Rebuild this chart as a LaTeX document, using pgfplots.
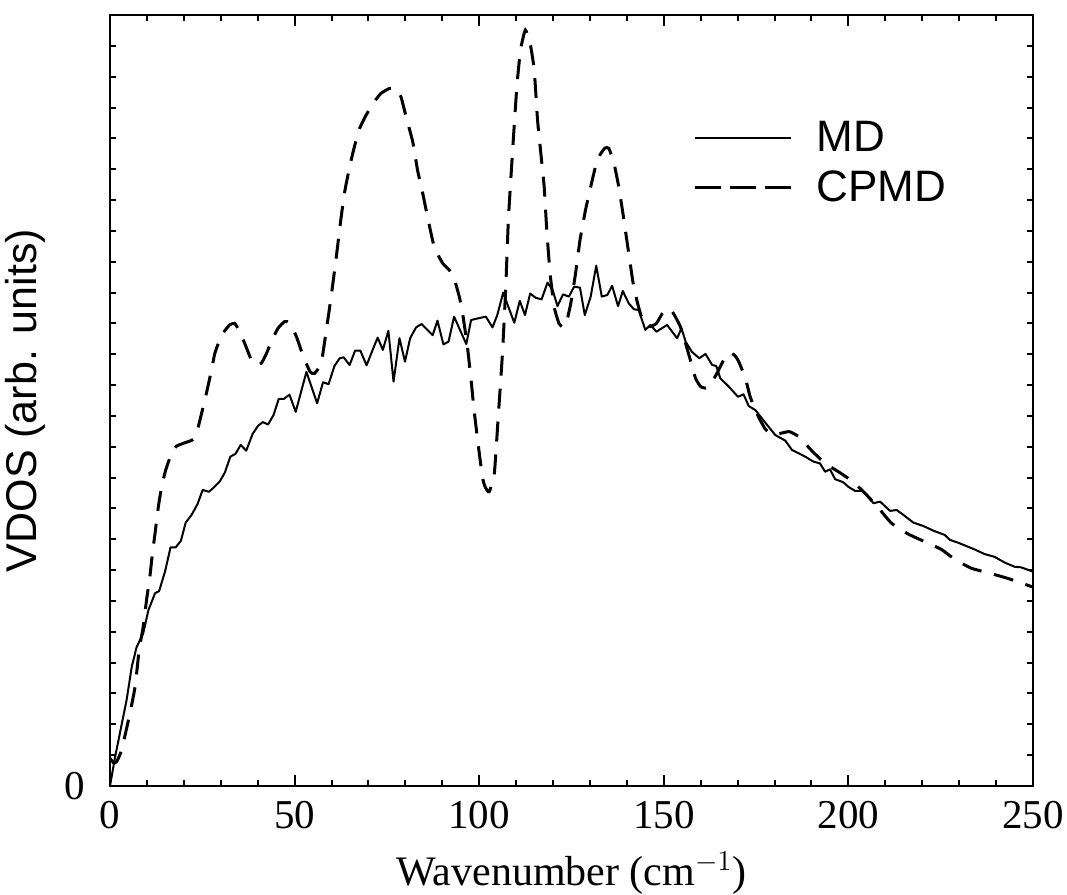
\documentclass[border=0pt]{standalone}
\usepackage{pgfplots}
\pgfplotsset{compat=1.18}
\usepackage{fontspec}
\setmainfont{Liberation Serif}
\newfontfamily\arial{Liberation Sans}
\begin{document}
\begin{tikzpicture}
\begin{axis}[
  name=ax,
  scale only axis,
  width=461.5pt, height=385.5pt,
  xmin=0, xmax=250, ymin=0, ymax=25,
  xtick={0,50,100,150,200,250},
  minor xtick={10,20,30,40,60,70,80,90,110,120,130,140,160,170,180,190,210,220,230,240},
  ytick={0},
  minor ytick={1,2,...,25},
  tick align=inside,
  major tick length=5.5pt,
  minor tick length=3pt,
  axis line style={line width=1.2pt},
  every tick/.style={line width=1pt, black},
  /pgf/number format/assume math mode=true,
  ticklabel style={font=\fontsize{20.5}{24}\selectfont},
  xticklabel style={yshift=-4pt},
  yticklabel style={xshift=-9pt},
  xlabel={Wavenumber (cm$^{-1}$)},
  xlabel style={font=\fontsize{21}{25}\selectfont, at={(axis description cs:0.5,-0.113)}, anchor=center},
  ylabel={VDOS (arb. units)},
  ylabel style={font=\arial\fontsize{21.5}{25}\selectfont, at={(axis description cs:-0.092,0.5)}, anchor=center, rotate=0},
  legend style={at={(axis description cs:0.632,0.868)}, anchor=north west, draw=none, fill=none,
    font=\arial\fontsize{22}{26}\selectfont, row sep=4pt, column sep=10pt, inner sep=0pt},
  legend cell align=left,
  legend image code/.code={\draw[#1] (0pt,0pt) -- (48pt,0pt);},
]
\addplot[black, line width=1pt, line join=round] coordinates {
(0,0) (1.4,0.95) (4.5,2.79) (5.9,3.87) (7.2,4.5) (9.0,4.95) (10.4,5.7) (12.2,6.25)
(13.3,6.32) (14.9,6.95) (16.4,7.74) (17.8,7.74) (19.2,7.95) (20.5,8.54) (22.1,8.79)
(23.7,9.14) (25.1,9.6) (26.8,9.54) (28.3,9.7) (29.7,9.87) (31.1,10.16) (32.6,10.68)
(34.0,10.77) (35.4,11.06) (36.9,10.87) (38.6,11.41) (40.1,11.68) (41.4,11.8) (42.8,11.72)
(44.3,12.03) (45.7,12.55) (47.1,12.55) (48.6,12.69) (50.3,12.13) (53.2,13.43) (56.1,12.41)
(57.7,13.09) (59.2,13.03) (60.8,13.62) (62.2,13.87) (63.3,13.9) (64.9,13.65) (66.4,14.12)
(67.8,14.12) (69.5,13.64) (71.0,14.1) (72.5,14.54) (73.9,14.14) (75.4,14.76) (76.8,13.11)
(78.4,14.52) (79.9,13.76) (81.3,14.52) (82.9,14.87) (84.4,14.98) (85.9,14.8) (87.4,14.62)
(88.7,15.09) (90.3,14.32) (91.7,14.41) (93.2,15.22) (96.5,14.33) (97.8,15.11) (99.2,15.15)
(101.8,15.22) (103.6,14.87) (104.9,15.27) (106.5,16.0) (107.9,15.54) (109.5,15.02) (111.0,15.73)
(112.4,15.27) (113.8,15.97) (115.3,15.83) (116.9,15.78) (118.5,16.32) (119.9,16.08) (121.2,15.56)
(122.7,15.94) (124.3,15.87) (125.7,16.19) (127.3,16.16) (128.6,15.27) (130.2,15.87) (131.7,16.87)
(133.2,15.87) (134.7,15.92) (136.0,16.22) (137.6,15.56) (138.9,16.05) (140.5,15.65) (141.9,15.46)
(143.2,15.43) (145.0,14.79) (146.4,14.95) (148.0,14.73) (150.9,14.95) (153.6,14.52) (154.8,14.84)
(155.9,14.41) (157.6,14.08) (159.6,13.87) (161.3,14.01) (163.1,13.65) (164.2,13.62) (165.3,13.22)
(167.6,12.95) (170.1,12.62) (171.6,12.7) (173.0,12.32) (174.8,12.19) (177.5,11.78) (180.2,11.38)
(182.9,11.2) (184.7,10.9) (186.5,10.79) (188.3,10.68) (190.5,10.52) (192.3,10.46) (193.7,10.19)
(195.0,10.27) (196.4,9.95) (198.6,9.85) (200.0,9.7) (201.8,9.57) (203.8,9.57) (206.8,9.17)
(208.6,9.22) (211.3,8.92) (213.1,8.95) (214.9,8.79) (217.6,8.54) (220.3,8.43) (223.0,8.28)
(226.1,8.14) (227.5,7.98) (229.7,7.89) (234.2,7.67) (236.9,7.52) (239.6,7.43) (242.4,7.24)
(245.0,7.11) (246.8,7.09) (250,6.95)
};
\addlegendentry{MD}
\addplot[black, line width=1.5pt, dash pattern=on 10pt off 6.5pt, smooth, tension=0.3,
  legend image post style={dash pattern=on 13pt off 4.5pt}] coordinates {
(0,0.9) (1,0.75) (1.8,0.79) (3.0,1.11) (4.2,1.71) (5.4,2.36) (6.8,3.22) (7.9,4.41) (9.0,5.17)
(9.9,6.03) (10.8,6.79) (11.5,7.55) (12.2,8.19) (13.1,9.06) (14.0,9.71) (15.1,10.25) (16.7,10.79)
(18.0,11.02) (20.3,11.13) (22.5,11.24) (23.9,11.65) (24.8,12.08) (26.1,12.73) (27.3,13.38)
(28.4,14.03) (29.7,14.46) (30.9,14.73) (32.4,14.95) (33.8,15.0) (35.1,14.73) (36.5,14.35)
(38.3,13.81) (39.6,13.65) (41.0,13.71) (42.4,14.03) (43.7,14.41) (45.5,14.84) (47.3,15.06)
(48.6,15.02) (50.5,14.57) (52.2,13.98) (54.2,13.43) (55.4,13.38) (57.2,13.71) (58.6,14.79)
(59.9,15.87) (61.3,17.16) (62.4,18.25) (63.5,19.22) (64.9,20.08) (66.2,20.73) (67.6,21.32)
(69.4,21.76) (71.6,22.19) (73.4,22.46) (75.7,22.62) (77.3,22.62) (78.8,22.35) (80.2,21.7)
(82.0,20.89) (83.3,19.97) (84.7,19.22) (86.0,18.46) (87.8,17.49) (90.1,16.95) (91.9,16.73)
(93.2,16.46) (94.6,15.87) (95.5,15.33) (96.8,14.25) (97.8,13.17) (98.6,12.2) (99.8,11.0)
(100.9,10.0) (101.6,9.7) (102.7,9.54) (104.1,10.14) (105.1,11.87) (106.3,14.03) (107.2,16.19)
(107.9,18.35) (109.0,20.51) (110.2,22.68) (111.2,23.87) (112.5,24.51) (113.8,24.08) (114.9,23.22)
(115.8,21.6) (116.7,20.51) (117.6,19.43) (118.3,18.03) (119.2,16.62) (120.3,15.54) (121.6,15.0)
(122.8,14.87) (123.7,15.06) (124.8,15.65) (126.1,16.62) (127.3,17.7) (128.8,18.68) (130.2,19.43)
(131.5,20.08) (132.7,20.46) (134.0,20.68) (135.1,20.68) (136.5,20.19) (137.8,19.43) (139.2,18.35)
(140.5,17.27) (141.7,16.3) (142.8,15.7) (144.0,15.2) (146.0,14.9) (148.0,15.0) (150.0,15.4)
(151.8,15.46) (153.2,15.2) (154.5,14.89) (155.9,14.35) (157.2,13.81) (158.6,13.22) (160.0,12.95)
(161.7,12.9) (163.0,13.1) (164.4,13.38) (166.7,13.92) (168.0,14.05) (169.3,13.95) (170.3,13.76)
(172.1,13.22) (173.4,12.62) (175.2,12.08) (177.5,11.57) (179.5,11.40) (181.8,11.44) (184.0,11.49)
(186.5,11.33) (190.1,10.87) (193.7,10.46) (197.7,10.16) (201.4,9.85) (205.4,9.38) (208.6,8.95)
(211.7,8.52) (216.2,8.17) (220.7,7.92) (225.2,7.67) (228.8,7.35) (233.3,7.06) (238.3,6.9)
(243.2,6.73) (250,6.45)
};
\addlegendentry{CPMD}
\end{axis}
\pgfresetboundingbox
\path[use as bounding box] (ax.south west) ++(-55pt,-54.5pt) rectangle ++(533.5pt,447.5pt);
\end{tikzpicture}
\end{document}
